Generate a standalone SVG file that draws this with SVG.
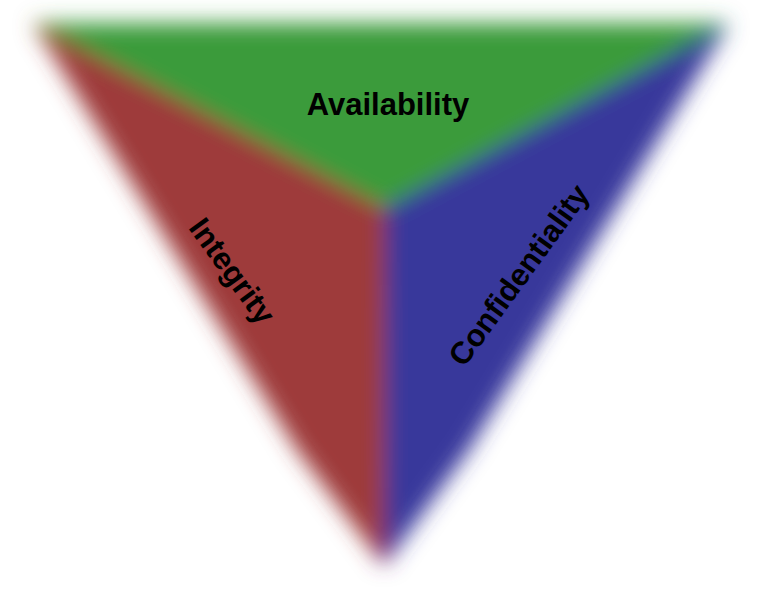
<svg xmlns="http://www.w3.org/2000/svg" width="770" height="589" viewBox="0 0 770 589">
  <style>
    .lbl { font-family: "Liberation Sans", Arial, sans-serif; font-weight: bold; font-size: 31px; fill: #000; text-anchor: middle; }
  </style>
  <defs>
    <filter id="soft" filterUnits="userSpaceOnUse" x="0" y="0" width="770" height="589">
      <feGaussianBlur stdDeviation="10.5"/>
    </filter>
  </defs>
  <rect width="770" height="589" fill="#ffffff"/>
  <g id="shapes" filter="url(#soft)">
    <g id="availability-face"><polygon points="33,23 729,23 385,208" fill="#3a9b3a"/></g>
    <g id="integrity-face"><polygon points="33,23 385,208 384,566 297,450" fill="#9e3a3a"/></g>
    <g id="confidentiality-face"><polygon points="729,23 385,208 384,566 469,450" fill="#39399b"/></g>
  </g>
  <g id="connectors"></g>
  <g id="availability"><text class="lbl" x="388" y="115">Availability</text></g>
  <g id="integrity"><text class="lbl" transform="translate(231,272) rotate(54)" x="0" y="9">Integrity</text></g>
  <g id="confidentiality"><text class="lbl" transform="translate(520,276) rotate(-54)" x="0" y="9">Confidentiality</text></g>
</svg>
